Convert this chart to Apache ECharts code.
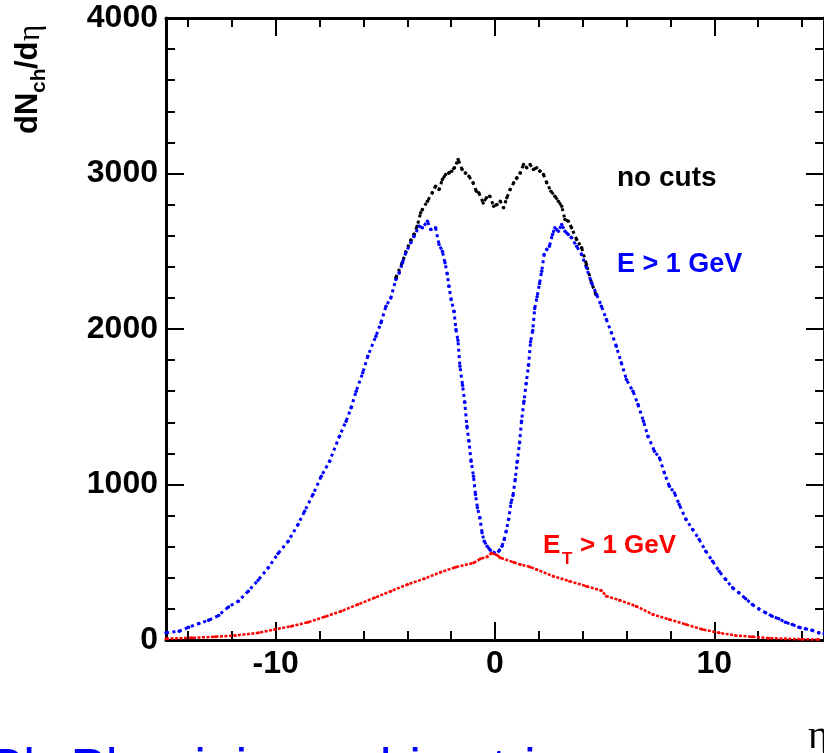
<!DOCTYPE html>
<html>
<head>
<meta charset="utf-8">
<script src="https://cdn.jsdelivr.net/npm/echarts@6/dist/echarts.min.js"></script>
<style>
html,body{margin:0;padding:0;background:#fff;}
#c{width:824px;height:753px;}
</style>
</head>
<body>
<div id="c"></div>
<script>
// ---- data ----
const etaBlue = [-15.0,-14.4,-13.97,-13.5,-13.06,-12.6,-12.15,-11.7,-11.25,-10.8,-10.34,-9.89,-9.43,-8.98,-8.68,-8.30,-7.92,-7.54,-7.09,-6.79,-6.56,-6.33,-6.03,-5.80,-5.43,-5.20,-4.97,-4.75,-4.52,-4.37,-4.22,-4.07,-3.84,-3.69,-3.46,-3.31,-3.08,-2.93,-2.71,-2.55,-2.40,-2.28,-2.18,-2.10,-2.00,-1.87,-1.78,-1.69,-1.60,-1.48,-1.38,-1.28,-1.19,-1.09,-0.98,-0.89,-0.80,-0.69,-0.59,-0.49,-0.36,-0.21,-0.03,0.17,0.32,0.42,0.51,0.62,0.73,0.82,0.92,1.01,1.12,1.21,1.32,1.42,1.53,1.62,1.72,1.81,1.92,2.03,2.13,2.24,2.36,2.48,2.62,2.73,2.89,3.04,3.19,3.34,3.49,3.72,3.95,4.17,4.40,4.63,4.85,5.08,5.31,5.53,5.76,5.99,6.29,6.52,6.77,6.97,7.27,7.50,7.72,7.95,8.18,8.40,8.71,9.01,9.31,9.61,9.92,10.22,10.52,10.83,11.12,11.43,11.73,12.03,12.34,12.64,12.94,13.24,13.55,13.85,14.15,14.45,14.75,15.0];
const valBlue = [46,57,82,106,127,158,213,250,314,385,464,556,635,743,828,936,1053,1150,1311,1407,1493,1600,1718,1825,1954,2040,2147,2200,2318,2360,2426,2490,2554,2597,2661,2651,2693,2640,2651,2543,2500,2426,2355,2275,2190,2114,1997,1928,1761,1639,1529,1375,1279,1150,1053,936,850,786,689,635,603,577,561,571,603,646,700,775,882,929,1032,1143,1268,1407,1536,1649,1767,1918,1990,2132,2207,2293,2372,2479,2511,2532,2608,2651,2629,2672,2629,2608,2587,2532,2479,2394,2297,2222,2147,2061,1976,1889,1783,1675,1600,1514,1407,1311,1214,1171,1075,989,946,871,775,711,646,571,507,442,389,336,304,265,228,200,175,153,136,114,100,82,72,63,46,42];

const etaBlack = [-4.52,-4.22,-4.07,-3.84,-3.69,-3.55,-3.39,-3.31,-3.08,-2.86,-2.71,-2.55,-2.40,-2.25,-2.10,-1.98,-1.85,-1.68,-1.50,-1.35,-1.19,-1.00,-0.85,-0.74,-0.54,-0.39,-0.24,-0.06,0.09,0.24,0.39,0.54,0.69,0.85,1.00,1.15,1.30,1.45,1.60,1.75,1.90,2.05,2.21,2.36,2.55,2.73,2.89,3.04,3.19,3.34,3.49,3.72,3.95,4.17,4.40,4.60];
const valBlack = [2330,2430,2495,2570,2610,2660,2747,2768,2822,2876,2918,2897,2961,2994,3004,3015,3037,3090,3026,3004,2983,2940,2886,2876,2811,2844,2854,2790,2800,2822,2779,2844,2897,2940,2972,3004,3058,3037,3058,3026,3037,3015,2994,2940,2886,2854,2822,2790,2704,2693,2651,2576,2522,2415,2297,2222];

const etaRed = [-15.0,-13.82,-12.76,-11.85,-10.79,-10.04,-9.28,-8.53,-7.77,-7.02,-6.26,-5.50,-4.75,-3.99,-3.23,-2.48,-1.80,-0.97,-0.67,-0.36,-0.17,-0.06,0.09,0.24,0.85,1.15,1.60,1.90,2.66,3.41,4.17,4.85,5.08,5.68,6.44,7.20,7.95,8.71,9.46,10.22,10.97,11.73,12.48,13.24,14.0,14.75];
const valRed = [8,14,21,29,46,68,89,114,149,185,228,271,314,357,394,436,468,496,522,535,558,555,546,529,500,486,470,453,410,378,346,318,282,256,217,164,132,100,68,46,29,21,12,8,5,3];

const xMajorTicks = [-10, 0, 10];
const xMinorTicks = [-14,-12,-8,-6,-4,-2,2,4,6,8,12,14];
const yTickLabels = ['0','1000','2000','3000','4000'];

// ---- chart ----
const pairs = (xs, ys) => xs.map((x, i) => [x, ys[i]]);
const FONT = '"Liberation Sans", Arial, Helvetica, sans-serif';
const SERIF = '"Liberation Serif", "DejaVu Serif", serif';

function xAx(pos, ticks, len, labels, showLine) {
  return {
    type: 'value', position: pos, min: -15, max: 15,
    axisLine: { show: showLine, onZero: false, lineStyle: { color: '#000', width: 3 } },
    axisTick: { show: true, inside: true, length: len, customValues: ticks, lineStyle: { color: '#000', width: 2 } },
    axisLabel: labels ? { show: true, customValues: ticks, color: '#000', fontFamily: FONT, fontWeight: 'bold', fontSize: 32, margin: 8 } : { show: false },
    splitLine: { show: false }
  };
}
function yAx(pos, labels) {
  return {
    type: 'value', position: pos, min: 0, max: 4000, interval: 1000,
    axisLine: { show: true, onZero: false, lineStyle: { color: '#000', width: 3 } },
    axisTick: { show: true, inside: true, length: 18, lineStyle: { color: '#000', width: 2 } },
    minorTick: { show: true, splitNumber: 5, length: 9, lineStyle: { color: '#000', width: 2 } },
    axisLabel: labels ? { show: true, color: '#000', fontFamily: FONT, fontWeight: 'bold', fontSize: 32, margin: 8,
      formatter: (v) => yTickLabels[Math.round(v / 1000)] } : { show: false },
    splitLine: { show: false }, minorSplitLine: { show: false }
  };
}

const chart = echarts.init(document.getElementById('c'), null, { renderer: 'canvas' });
chart.setOption({
  animation: false,
  backgroundColor: '#fff',
  grid: { left: 166, top: 18, width: 663, height: 622, containLabel: false },
  xAxis: [
    xAx('bottom', xMajorTicks, 18, true, true),
    xAx('bottom', xMinorTicks, 9, false, false),
    xAx('top', xMajorTicks, 18, false, true),
    xAx('top', xMinorTicks, 9, false, false)
  ],
  yAxis: [ yAx('left', true), yAx('right', false) ],
  series: [
    { name: 'no cuts', type: 'line', xAxisIndex: 0, yAxisIndex: 0, data: pairs(etaBlack, valBlack),
      symbol: 'circle', symbolSize: 3.5, showSymbol: true, itemStyle: { color: '#000' },
      lineStyle: { color: '#000', width: 3, type: [3, 3.5] } },
    { name: 'E > 1 GeV', type: 'line', xAxisIndex: 0, yAxisIndex: 0, data: pairs(etaBlue, valBlue),
      symbol: 'circle', symbolSize: 3.5, showSymbol: true, itemStyle: { color: '#0000ff' },
      lineStyle: { color: '#0000ff', width: 3, type: [3, 3.5] } },
    { name: 'ET > 1 GeV', type: 'line', xAxisIndex: 0, yAxisIndex: 0, data: pairs(etaRed, valRed),
      symbol: 'circle', symbolSize: 3, showSymbol: true, itemStyle: { color: '#ff0000' },
      lineStyle: { color: '#ff0000', width: 2.5, type: [3, 1.5] } }
  ],
  graphic: [
    // y-axis title, rotated
    { type: 'group', x: 39, y: 134, rotation: Math.PI / 2, silent: true, children: [
      { type: 'text', x: 0, y: -11, style: { text: 'dN', font: 'bold 31px ' + FONT, fill: '#000', align: 'left', verticalAlign: 'middle', textAlign: 'left', textVerticalAlign: 'middle' } },
      { type: 'text', x: 41, y: 0, style: { text: 'ch', font: 'bold 21px ' + FONT, fill: '#000', align: 'left', verticalAlign: 'middle', textAlign: 'left', textVerticalAlign: 'middle' } },
      { type: 'text', x: 65, y: -11, style: { text: '/d', font: 'bold 31px ' + FONT, fill: '#000', align: 'left', verticalAlign: 'middle', textAlign: 'left', textVerticalAlign: 'middle' } },
      { type: 'text', x: 93, y: -8, style: { text: 'η', font: '31px ' + SERIF, fill: '#000', align: 'left', verticalAlign: 'middle', textAlign: 'left', textVerticalAlign: 'middle' } }
    ]},
    // annotations
    { type: 'text', x: 617, y: 178, silent: true, style: { text: 'no cuts', font: 'bold 28px ' + FONT, fill: '#000', align: 'left', verticalAlign: 'middle', textAlign: 'left', textVerticalAlign: 'middle' } },
    { type: 'text', x: 617, y: 265, silent: true, style: { text: 'E > 1 GeV', font: 'bold 27px ' + FONT, fill: '#0000ff', align: 'left', verticalAlign: 'middle', textAlign: 'left', textVerticalAlign: 'middle' } },
    { type: 'text', x: 543, y: 546, silent: true, style: { text: 'E', font: 'bold 26px ' + FONT, fill: '#ff0000', align: 'left', verticalAlign: 'middle', textAlign: 'left', textVerticalAlign: 'middle' } },
    { type: 'text', x: 562, y: 559, silent: true, style: { text: 'T', font: 'bold 17px ' + FONT, fill: '#ff0000', align: 'left', verticalAlign: 'middle', textAlign: 'left', textVerticalAlign: 'middle' } },
    { type: 'text', x: 580, y: 546, silent: true, style: { text: '> 1 GeV', font: 'bold 26px ' + FONT, fill: '#ff0000', align: 'left', verticalAlign: 'middle', textAlign: 'left', textVerticalAlign: 'middle' } },
    // x-axis title
    { type: 'text', x: 829, y: 737, silent: true, style: { text: 'η', font: '40px ' + SERIF, fill: '#000', align: 'right', verticalAlign: 'middle', textAlign: 'right', textVerticalAlign: 'middle' } },
    // caption below (mostly off-canvas)
    { type: 'text', x: -12, y: 771, silent: true, style: { text: 'Pb-Pb minimum bias trigger', font: '53px ' + FONT, fill: '#0000ff', align: 'left', verticalAlign: 'middle', textAlign: 'left', textVerticalAlign: 'middle' } }
  ]
});
</script>
</body>
</html>
